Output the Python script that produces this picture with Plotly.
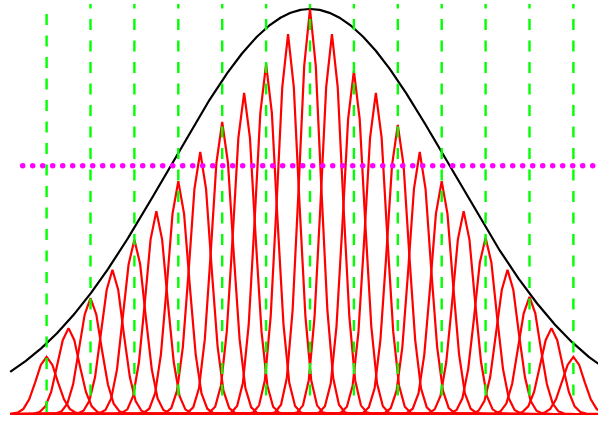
import numpy as np
import plotly.graph_objects as go

# ---- data ----
bump_centers = [k * 0.5 for k in range(-12, 13)]
bump_heights = [0.141, 0.212, 0.286, 0.356, 0.430, 0.501, 0.575, 0.647, 0.721, 0.793,
                0.864, 0.938, 1.000, 0.938, 0.847, 0.793, 0.714, 0.647, 0.575, 0.501,
                0.435, 0.356, 0.289, 0.212, 0.141]
bump_sigma = 0.24
sample_step = 0.132
env_center = 0.0
env_sigma = 3.21
env_height = 1.0
vline_x = list(range(-6, 7))
hline_y = 0.613
x_min, x_max = -6.83, 6.83

# ---- pixel geometry helpers (styling) ----
PX_PER_X = 43.9
PX_PER_Y = 405.0
X0_PX = 310.0
BASE_PX = 414.0
W, H = 598, 421
MT, MB = 4, 4
x_range = [(0 - X0_PX) / PX_PER_X, (W - X0_PX) / PX_PER_X]
y_range = [(BASE_PX - (H - MB)) / PX_PER_Y, (BASE_PX - MT) / PX_PER_Y]

fig = go.Figure()

# envelope
xe = np.linspace(x_min, x_max, 600)
ye = env_height * np.exp(-(xe - env_center) ** 2 / (2 * env_sigma ** 2))
fig.add_trace(go.Scatter(x=xe, y=ye, mode="lines",
                         line=dict(color="black", width=2.2), hoverinfo="skip"))

# red bumps (coarsely sampled)
for c, h in zip(bump_centers, bump_heights):
    jlo = int(np.floor((x_min - c) / sample_step))
    jhi = int(np.ceil((x_max - c) / sample_step))
    xs = c + sample_step * np.arange(jlo, jhi + 1)
    xs = np.clip(xs, x_min, x_max)
    ys = h * np.exp(-(xs - c) ** 2 / (2 * bump_sigma ** 2))
    fig.add_trace(go.Scatter(x=xs, y=ys, mode="lines",
                             line=dict(color="#ff0000", width=2.2), hoverinfo="skip"))

# green dashed vertical lines
for i, xv in enumerate(vline_x):
    start_px = -7.5 if i == 0 else -2.5
    end_px = 430 if i == 0 else 398
    y_top = (BASE_PX - start_px) / PX_PER_Y
    y_bot = (BASE_PX - end_px) / PX_PER_Y
    fig.add_trace(go.Scatter(x=[xv, xv], y=[y_top, y_bot], mode="lines",
                             line=dict(color="#00ff00", width=2.4, dash="11px,10.5px"),
                             hoverinfo="skip"))

# magenta dotted horizontal line
dot_step = 10.0 / PX_PER_X
xd = np.arange((22.7 - X0_PX) / PX_PER_X, x_range[1] + dot_step, dot_step)
fig.add_trace(go.Scatter(x=xd, y=[hline_y] * len(xd), mode="markers",
                         marker=dict(color="#ff00ff", size=5.5, line=dict(width=0)),
                         hoverinfo="skip"))

fig.update_layout(
    width=W, height=H,
    margin=dict(l=0, r=0, t=MT, b=MB, pad=0),
    paper_bgcolor="white", plot_bgcolor="white",
    showlegend=False,
    xaxis=dict(range=x_range, visible=False, fixedrange=True),
    yaxis=dict(range=y_range, visible=False, fixedrange=True),
)
fig.write_html("out.html", config={"displayModeBar": False},
               post_script="document.body.style.margin='0';document.body.style.overflow='hidden';")
